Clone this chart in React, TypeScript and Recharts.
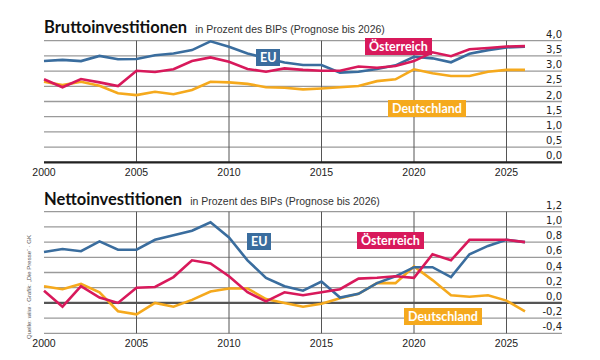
import React from 'react';
import { LineChart, Line, XAxis, YAxis, CartesianGrid, ReferenceLine } from 'recharts';

const years = [
  2000, 2001, 2002, 2003, 2004, 2005, 2006, 2007, 2008, 2009, 2010, 2011, 2012,
  2013, 2014, 2015, 2016, 2017, 2018, 2019, 2020, 2021, 2022, 2023, 2024, 2025, 2026,
];

// Bruttoinvestitionen (% des BIP)
const bruttoEU = [
  3.33, 3.37, 3.33, 3.5, 3.39, 3.4, 3.52, 3.58, 3.69, 3.98, 3.8, 3.58, 3.42,
  3.28, 3.2, 3.2, 2.95, 2.98, 3.07, 3.19, 3.47, 3.42, 3.29, 3.57, 3.69, 3.78, 3.8,
];
const bruttoAT = [
  2.73, 2.47, 2.74, 2.63, 2.51, 3.01, 2.97, 3.06, 3.33, 3.45, 3.31, 3.07, 2.98,
  3.09, 3.04, 3.01, 3.01, 3.15, 3.11, 3.17, 3.33, 3.62, 3.49, 3.72, 3.76, 3.81, 3.82,
];
const bruttoDE = [
  2.65, 2.54, 2.65, 2.52, 2.27, 2.21, 2.32, 2.24, 2.38, 2.65, 2.63, 2.58, 2.47,
  2.45, 2.4, 2.43, 2.47, 2.51, 2.67, 2.73, 3.06, 2.93, 2.84, 2.84, 2.98, 3.04, 3.04,
];

// Nettoinvestitionen (% des BIP)
const nettoEU = [
  0.67, 0.71, 0.68, 0.81, 0.7, 0.7, 0.83, 0.89, 0.95, 1.06, 0.86, 0.56, 0.33,
  0.22, 0.16, 0.28, 0.07, 0.12, 0.26, 0.35, 0.47, 0.47, 0.34, 0.64, 0.75, 0.83, 0.8,
];
const nettoAT = [
  0.16, -0.05, 0.22, 0.07, 0.0, 0.2, 0.21, 0.34, 0.56, 0.52, 0.35, 0.14, 0.02,
  0.14, 0.1, 0.14, 0.18, 0.32, 0.33, 0.35, 0.33, 0.64, 0.56, 0.83, 0.83, 0.83, 0.8,
];
const nettoDE = [
  0.22, 0.18, 0.25, 0.14, -0.11, -0.15, 0.0, -0.05, 0.04, 0.15, 0.19, 0.19, 0.05,
  0.0, -0.05, -0.01, 0.06, 0.12, 0.26, 0.26, 0.48, 0.3, 0.1, 0.08, 0.1, 0.03, -0.11,
];

const xTicks = [2000, 2005, 2010, 2015, 2020, 2025];
const vLines = [2005, 2010, 2015, 2020, 2025];
const bruttoTicks = [0, 0.5, 1, 1.5, 2, 2.5, 3, 3.5, 4];
const nettoTicks = [-0.4, -0.2, 0, 0.2, 0.4, 0.6, 0.8, 1, 1.2];

const BLUE = '#3a6d9e';
const RED = '#d8195b';
const YELLOW = '#f5a91d';

const bruttoData = years.map((year, i) => ({ year, eu: bruttoEU[i], at: bruttoAT[i], de: bruttoDE[i] }));
const nettoData = years.map((year, i) => ({ year, eu: nettoEU[i], at: nettoAT[i], de: nettoDE[i] }));

const PLOT_RIGHT = 562;

const fmt = (v: number) => v.toFixed(1).replace('.', ',');

const YTick = ({ y, payload }: any) => (
  <text
    x={PLOT_RIGHT}
    y={y - 3}
    textAnchor="end"
    fontFamily="'DejaVu Sans', sans-serif"
    fontSize={10}
    fill="#222"
  >
    {fmt(payload.value)}
  </text>
);

const XTick = ({ x, y, payload }: any) => (
  <text
    x={x}
    y={y + 6}
    textAnchor="middle"
    fontFamily="'Liberation Sans Narrow', 'Liberation Sans', sans-serif"
    fontSize={10.5}
    fill="#222"
  >
    {payload.value}
  </text>
);

const Tag = ({ text, color, left, top }: { text: string; color: string; left: number; top: number }) => (
  <div
    style={{
      position: 'absolute',
      left,
      top,
      height: 17,
      lineHeight: '17px',
      padding: '0 4px',
      background: color,
      color: '#fff',
      fontFamily: 'Lato, sans-serif',
      fontWeight: 700,
      fontSize: 12.5,
    }}
  >
    {text}
  </div>
);

const Title = ({ main, top }: { main: string; top: number }) => (
  <div
    style={{
      position: 'absolute',
      left: 44,
      top,
      whiteSpace: 'nowrap',
      color: '#111',
    }}
  >
    <span style={{ fontFamily: 'Lato, sans-serif', fontWeight: 700, fontSize: 16.5 }}>{main}</span>
    <span
      style={{
        fontFamily: "'Liberation Sans Narrow', sans-serif",
        fontSize: 10.5,
        marginLeft: 8,
        color: '#333',
      }}
    >
      in Prozent des BIPs (Prognose bis 2026)
    </span>
  </div>
);

const series = [
  { key: 'de', color: YELLOW },
  { key: 'eu', color: BLUE },
  { key: 'at', color: RED },
];

function Panel({ data, ticks, domain, top, bottom, zeroColor }: any) {
  return (
    <LineChart width={600} height={180} data={data} margin={{ top, right: 0, left: 44, bottom: 0 }}>
      <CartesianGrid vertical={false} stroke="#9a9a9a" strokeWidth={1.3} />
      {vLines.map((v) => (
        <ReferenceLine key={v} x={v} stroke="#555" strokeWidth={1} />
      ))}
      <ReferenceLine y={0} stroke={zeroColor} strokeWidth={2.2} />
      <XAxis
        dataKey="year"
        type="number"
        domain={[2000, 2028]}
        ticks={xTicks}
        tick={<XTick />}
        tickLine={false}
        axisLine={false}
        interval={0}
        height={bottom}
      />
      <YAxis
        orientation="right"
        type="number"
        domain={domain}
        ticks={ticks}
        tick={<YTick />}
        tickLine={false}
        axisLine={false}
        interval={0}
        width={600 - PLOT_RIGHT}
      />
      {series.map((s) => (
        <Line
          key={s.key}
          dataKey={s.key}
          stroke={s.color}
          strokeWidth={2.6}
          dot={false}
          type="linear"
          isAnimationActive={false}
        />
      ))}
    </LineChart>
  );
}

export default function App() {
  return (
    <div style={{ position: 'absolute', left: 0, top: 0, width: 600, height: 360, background: '#fff', overflow: 'hidden' }}>
      <div style={{ position: 'absolute', left: 0, top: 0 }}>
        <Panel data={bruttoData} ticks={bruttoTicks} domain={[0, 4]} top={40.7} bottom={17.7} zeroColor="#222" />
      </div>
      <div style={{ position: 'absolute', left: 0, top: 180 }}>
        <Panel data={nettoData} ticks={nettoTicks} domain={[-0.4, 1.2]} top={31.7} bottom={26.7} zeroColor="#555" />
      </div>
      <Title main="Bruttoinvestitionen" top={17} />
      <Title main="Nettoinvestitionen" top={189} />
      <Tag text="EU" color={BLUE} left={256} top={49} />
      <Tag text="Österreich" color={RED} left={365} top={38} />
      <Tag text="Deutschland" color={YELLOW} left={388} top={100} />
      <Tag text="EU" color={BLUE} left={247} top={233} />
      <Tag text="Österreich" color={RED} left={357} top={232} />
      <Tag text="Deutschland" color={YELLOW} left={404} top={308} />
      <div
        style={{
          position: 'absolute',
          left: 29,
          top: 287,
          transform: 'translate(-50%, -50%) rotate(-90deg)',
          whiteSpace: 'nowrap',
          fontFamily: "'Liberation Sans Narrow', sans-serif",
          fontSize: 6,
          color: '#555',
        }}
      >
        Quelle: wiiw · Grafik: „Die Presse“ · GK
      </div>
    </div>
  );
}
